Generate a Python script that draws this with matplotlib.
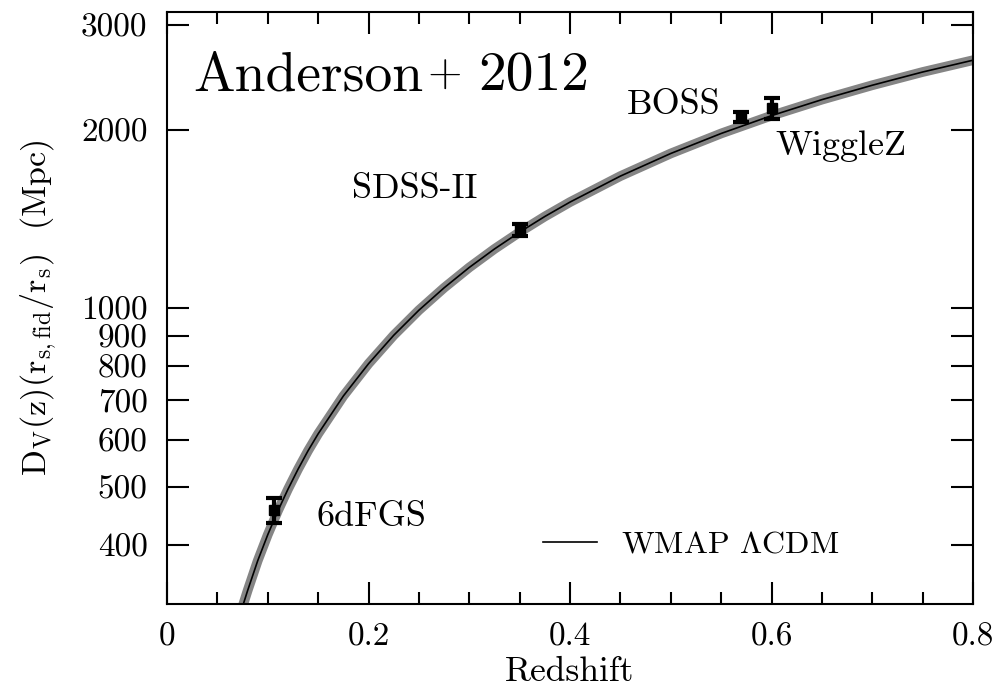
import numpy as np
import matplotlib
matplotlib.use('Agg')
import matplotlib.pyplot as plt
from matplotlib.ticker import FixedLocator, FixedFormatter, NullLocator, MultipleLocator

plt.rcParams['font.family'] = 'cmr10'
plt.rcParams['mathtext.fontset'] = 'cm'
plt.rcParams['axes.unicode_minus'] = False
plt.rcParams['axes.formatter.use_mathtext'] = True

# WMAP LCDM prediction for D_V(z) (r_s,fid / r_s)
model_z = [0.075, 0.08, 0.09, 0.10, 0.11, 0.12, 0.13, 0.14, 0.15, 0.175,
           0.20, 0.225, 0.25, 0.275, 0.30, 0.325, 0.35, 0.375, 0.40, 0.45,
           0.50, 0.55, 0.60, 0.65, 0.70, 0.75, 0.80]
model_dv = [315, 335, 376, 416, 456, 496, 536, 576, 615, 712,
            807, 901, 993, 1083, 1172, 1259, 1344, 1428, 1510, 1670,
            1823, 1970, 2111, 2246, 2375, 2500, 2617]

# BAO measurements
names = ['6dFGS', 'SDSS-II', 'BOSS', 'WiggleZ']
bao_z = [0.106, 0.35, 0.57, 0.60]
bao_dv = [457, 1357, 2100, 2172]
bao_err = [22, 32, 40, 85]

ytick_vals = [400, 500, 600, 700, 800, 900, 1000, 2000, 3000]
ytick_labels = ['400', '500', '600', '700', '800', '900', '1000', '2000', '3000']

fig = plt.figure(figsize=(10.08, 6.92), dpi=100)
ax = fig.add_axes([0.1657, 0.1272, 0.7996, 0.8555])

# grey band + central line
ax.plot(model_z, model_dv, color='#858585', lw=7, solid_capstyle='butt', zorder=2)
ax.plot(model_z, model_dv, color='black', lw=1.2, zorder=3, label=r'WMAP $\Lambda$CDM')

ax.errorbar(bao_z, bao_dv, yerr=bao_err, fmt='s', color='black', ms=6.5,
            elinewidth=3, capsize=6, capthick=3, zorder=4)

ax.set_yscale('log')
ax.set_xlim(0, 0.8)
ax.set_ylim(318, 3155)

ax.yaxis.set_major_locator(FixedLocator(ytick_vals))
ax.yaxis.set_major_formatter(FixedFormatter(ytick_labels))
ax.yaxis.set_minor_locator(NullLocator())
ax.set_xticks([0, 0.2, 0.4, 0.6, 0.8])
ax.set_xticklabels(['0', '0.2', '0.4', '0.6', '0.8'])
ax.xaxis.set_minor_locator(MultipleLocator(0.05))

ax.tick_params(axis='both', which='both', direction='in', top=True, right=True,
               labelsize=24, width=1.5)
ax.tick_params(axis='y', which='major', length=16, pad=14)
ax.tick_params(axis='x', which='major', length=16, pad=13)
ax.tick_params(axis='x', which='minor', length=8.5)
for s in ax.spines.values():
    s.set_linewidth(1.5)

ax.set_xlabel('Redshift', fontsize=25.5, labelpad=4)
ax.set_ylabel(r'$\mathrm{D_V(z)(r_{s,fid}/r_s)}$  (Mpc)', fontsize=24.5, labelpad=16)

# title made of pieces so the plus sits low and small
ax.text(0.032, 0.868, 'Anderson', transform=ax.transAxes, fontsize=40,
        va='baseline', ha='left')
ax.text(0.345, 0.893, '+', transform=ax.transAxes, fontsize=32,
        va='center', ha='center')
ax.text(0.386, 0.868, '2012', transform=ax.transAxes, fontsize=40,
        va='baseline', ha='left')

ax.text(0.549, 2202, 'BOSS', fontsize=26, ha='right', va='center')
ax.text(0.6035, 1872, 'WiggleZ', fontsize=26, ha='left', va='center')
ax.text(0.1836, 1585, 'SDSS-II', fontsize=26, ha='left', va='center')
ax.text(0.148, 445, '6dFGS', fontsize=26, ha='left', va='center')

ax.legend(loc='center left', bbox_to_anchor=(0.4665, 0.10), frameon=False,
          fontsize=23, handlelength=1.7, handletextpad=0.75,
          borderpad=0, borderaxespad=0)

fig.savefig('out.png', dpi=100)
